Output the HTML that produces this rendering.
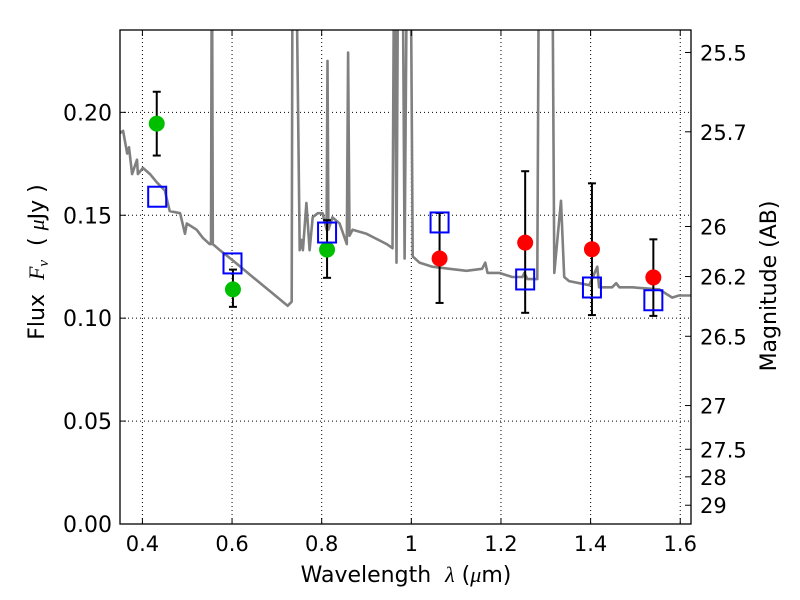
<!DOCTYPE html>
<html><head><meta charset="utf-8"><style>
body{margin:0;background:#fff}
svg{display:block;font-family:"DejaVu Sans","Liberation Sans",sans-serif}
text{white-space:pre}
.m{font-family:"Liberation Serif","DejaVu Serif",serif;font-style:italic}
</style></head><body>
<svg id="chart" width="800" height="600" viewBox="0 0 800 600"></svg>
<script>
const specLam=[0.350,0.357,0.366,0.370,0.377,0.388,0.390,0.401,0.417,0.432,0.450,0.461,0.484,0.495,0.499,0.521,0.535,0.550,0.553,0.555,0.557,0.573,0.602,0.646,0.691,0.724,0.733,0.735,0.742,0.751,0.755,0.758,0.766,0.773,0.780,0.791,0.802,0.811,0.813,0.815,0.824,0.840,0.856,0.859,0.862,0.869,0.900,0.945,0.958,0.962,0.967,0.971,0.980,0.985,0.991,0.998,1.003,1.018,1.047,1.085,1.123,1.158,1.165,1.170,1.196,1.225,1.248,1.252,1.259,1.281,1.285,1.314,1.319,1.334,1.341,1.352,1.397,1.415,1.419,1.448,1.457,1.464,1.493,1.553,1.582,1.597,1.624];
const specFlux=[0.190,0.191,0.180,0.183,0.170,0.177,0.170,0.173,0.170,0.166,0.162,0.152,0.151,0.141,0.146,0.143,0.139,0.136,0.136,0.30,0.136,0.133,0.128,0.120,0.112,0.106,0.108,0.30,0.30,0.133,0.138,0.133,0.156,0.133,0.149,0.151,0.151,0.143,0.225,0.143,0.149,0.146,0.136,0.229,0.140,0.143,0.141,0.136,0.134,0.30,0.127,0.30,0.30,0.129,0.30,0.30,0.130,0.127,0.125,0.124,0.123,0.124,0.127,0.122,0.122,0.120,0.120,0.122,0.119,0.119,0.30,0.30,0.122,0.157,0.120,0.118,0.116,0.125,0.115,0.115,0.117,0.115,0.115,0.114,0.110,0.111,0.111];
const greenLam=[0.432,0.602,0.812];
const greenFlux=[0.1945,0.114,0.1333];
const greenHi=[0.210,0.1236,0.1476];
const greenLo=[0.179,0.1055,0.1196];
const redLam=[1.063,1.254,1.403,1.540];
const redFlux=[0.129,0.1367,0.1335,0.1198];
const redHi=[0.1511,0.1714,0.1655,0.1383];
const redLo=[0.1074,0.1026,0.1015,0.1011];
const modelLam=[0.433,0.601,0.812,1.063,1.254,1.403,1.540];
const modelFlux=[0.159,0.1266,0.1416,0.1465,0.1188,0.1149,0.1087];
const xTicks=[0.4,0.6,0.8,1.0,1.2,1.4,1.6];
const xTickLabels=["0.4","0.6","0.8","1","1.2","1.4","1.6"];
const yTicks=[0,0.05,0.10,0.15,0.20];
const yTickLabels=["0.00","0.05","0.10","0.15","0.20"];
const magTicks=[25.5,25.7,26,26.2,26.5,27,27.5,28,29];
const magLabels=["25.5","25.7","26","26.2","26.5","27","27.5","28","29"];

const L=120,R=691,T=30,B=524,X0=0.35,X1=1.624,Y0=0,Y1=0.24;
const sx=v=>L+(v-X0)/(X1-X0)*(R-L);
const sy=v=>B-(v-Y0)/(Y1-Y0)*(B-T);
const magFlux=m=>Math.pow(10,(23.9-m)/2.5);
const svg=document.getElementById('chart');
const NS='http://www.w3.org/2000/svg';
function mk(tag,attrs,parent){const e=document.createElementNS(NS,tag);for(const k in attrs)e.setAttribute(k,attrs[k]);(parent||svg).appendChild(e);return e;}

const defs=mk('defs',{});
const cp=mk('clipPath',{id:'clip'},defs);
mk('rect',{x:L,y:T,width:R-L,height:B-T},cp);

const grid=mk('g',{});


xTicks.forEach(v=>{mk('line',{x1:sx(v),x2:sx(v),y1:T,y2:B,stroke:'#000','stroke-width':1,'stroke-dasharray':'1,3'},grid);});
yTicks.forEach(v=>{mk('line',{x1:L,x2:R,y1:sy(v),y2:sy(v),stroke:'#000','stroke-width':1,'stroke-dasharray':'1,3'},grid);});

const g=mk('g',{'clip-path':'url(#clip)'});
let d='';
specLam.forEach((l,i)=>{d+=(i?'L':'M')+sx(l).toFixed(1)+','+sy(specFlux[i]).toFixed(1);});
const sp=mk('path',{d:d,fill:'none',stroke:'#808080','stroke-width':2.6,'stroke-linejoin':'round'},g);



function errbar(lam,lo,hi,name){
  const eb=mk('g',{stroke:'#000','stroke-width':2},g);
  
  
  const x=sx(lam);
  mk('line',{x1:x,x2:x,y1:sy(hi),y2:sy(lo)},eb);
  mk('line',{x1:x-4,x2:x+4,y1:sy(hi),y2:sy(hi)},eb);
  mk('line',{x1:x-4,x2:x+4,y1:sy(lo),y2:sy(lo)},eb);
}
greenLam.forEach((l,i)=>{
  errbar(l,greenLo[i],greenHi[i],'green-errorbar');
  const c=mk('circle',{cx:sx(l),cy:sy(greenFlux[i]),r:8,fill:'#00bf00'},g);
  
  
});
redLam.forEach((l,i)=>{
  errbar(l,redLo[i],redHi[i],'red-errorbar');
  const c=mk('circle',{cx:sx(l),cy:sy(redFlux[i]),r:8,fill:'#ff0000'},g);
  
  
});
modelLam.forEach((l,i)=>{
  const s=mk('rect',{x:sx(l)-9,y:sy(modelFlux[i])-10,width:18,height:20,fill:'none',stroke:'#0000ff','stroke-width':2},g);
  
  
});

const fr=mk('rect',{x:L,y:T,width:R-L,height:B-T,fill:'none',stroke:'#000','stroke-width':1.3});



xTicks.forEach((v,i)=>{
  mk('line',{x1:sx(v),x2:sx(v),y1:B,y2:B-6,stroke:'#000'});
  mk('line',{x1:sx(v),x2:sx(v),y1:T,y2:T+6,stroke:'#000'});
  const t=mk('text',{x:sx(v),y:B+27,'font-size':21,'text-anchor':'middle'});
  t.textContent=xTickLabels[i];
  
  
});
yTicks.forEach((v,i)=>{
  mk('line',{x1:L,x2:L+6,y1:sy(v),y2:sy(v),stroke:'#000'});
  const t=mk('text',{x:L-8,y:sy(v)+8,'font-size':22,'text-anchor':'end'});
  t.textContent=yTickLabels[i];
  
  
});
magTicks.forEach((m,i)=>{
  const y=sy(magFlux(m));
  mk('line',{x1:R,x2:R-6,y1:y,y2:y,stroke:'#000'});
  const t=mk('text',{x:R+9,y:y+8,'font-size':21,'text-anchor':'start'});
  t.textContent=magLabels[i];
  
  
});

const xl=mk('text',{x:406,y:582,'font-size':22,'text-anchor':'middle'});
xl.innerHTML='Wavelength  <tspan class="m">λ</tspan> (<tspan class="m">μ</tspan>m)';


const yl=mk('text',{x:0,y:0,'font-size':22,'text-anchor':'middle',transform:'translate(44,262) rotate(-90)'});
yl.innerHTML='Flux  <tspan class="m">F</tspan><tspan class="m" font-size="15" dy="4">ν</tspan><tspan dy="-4">  ( </tspan><tspan class="m">μ</tspan>Jy )';


const rl=mk('text',{x:0,y:0,'font-size':22,'text-anchor':'middle',transform:'translate(776,286) rotate(-90)'});
rl.textContent='Magnitude (AB)';


</script>
</body></html>
